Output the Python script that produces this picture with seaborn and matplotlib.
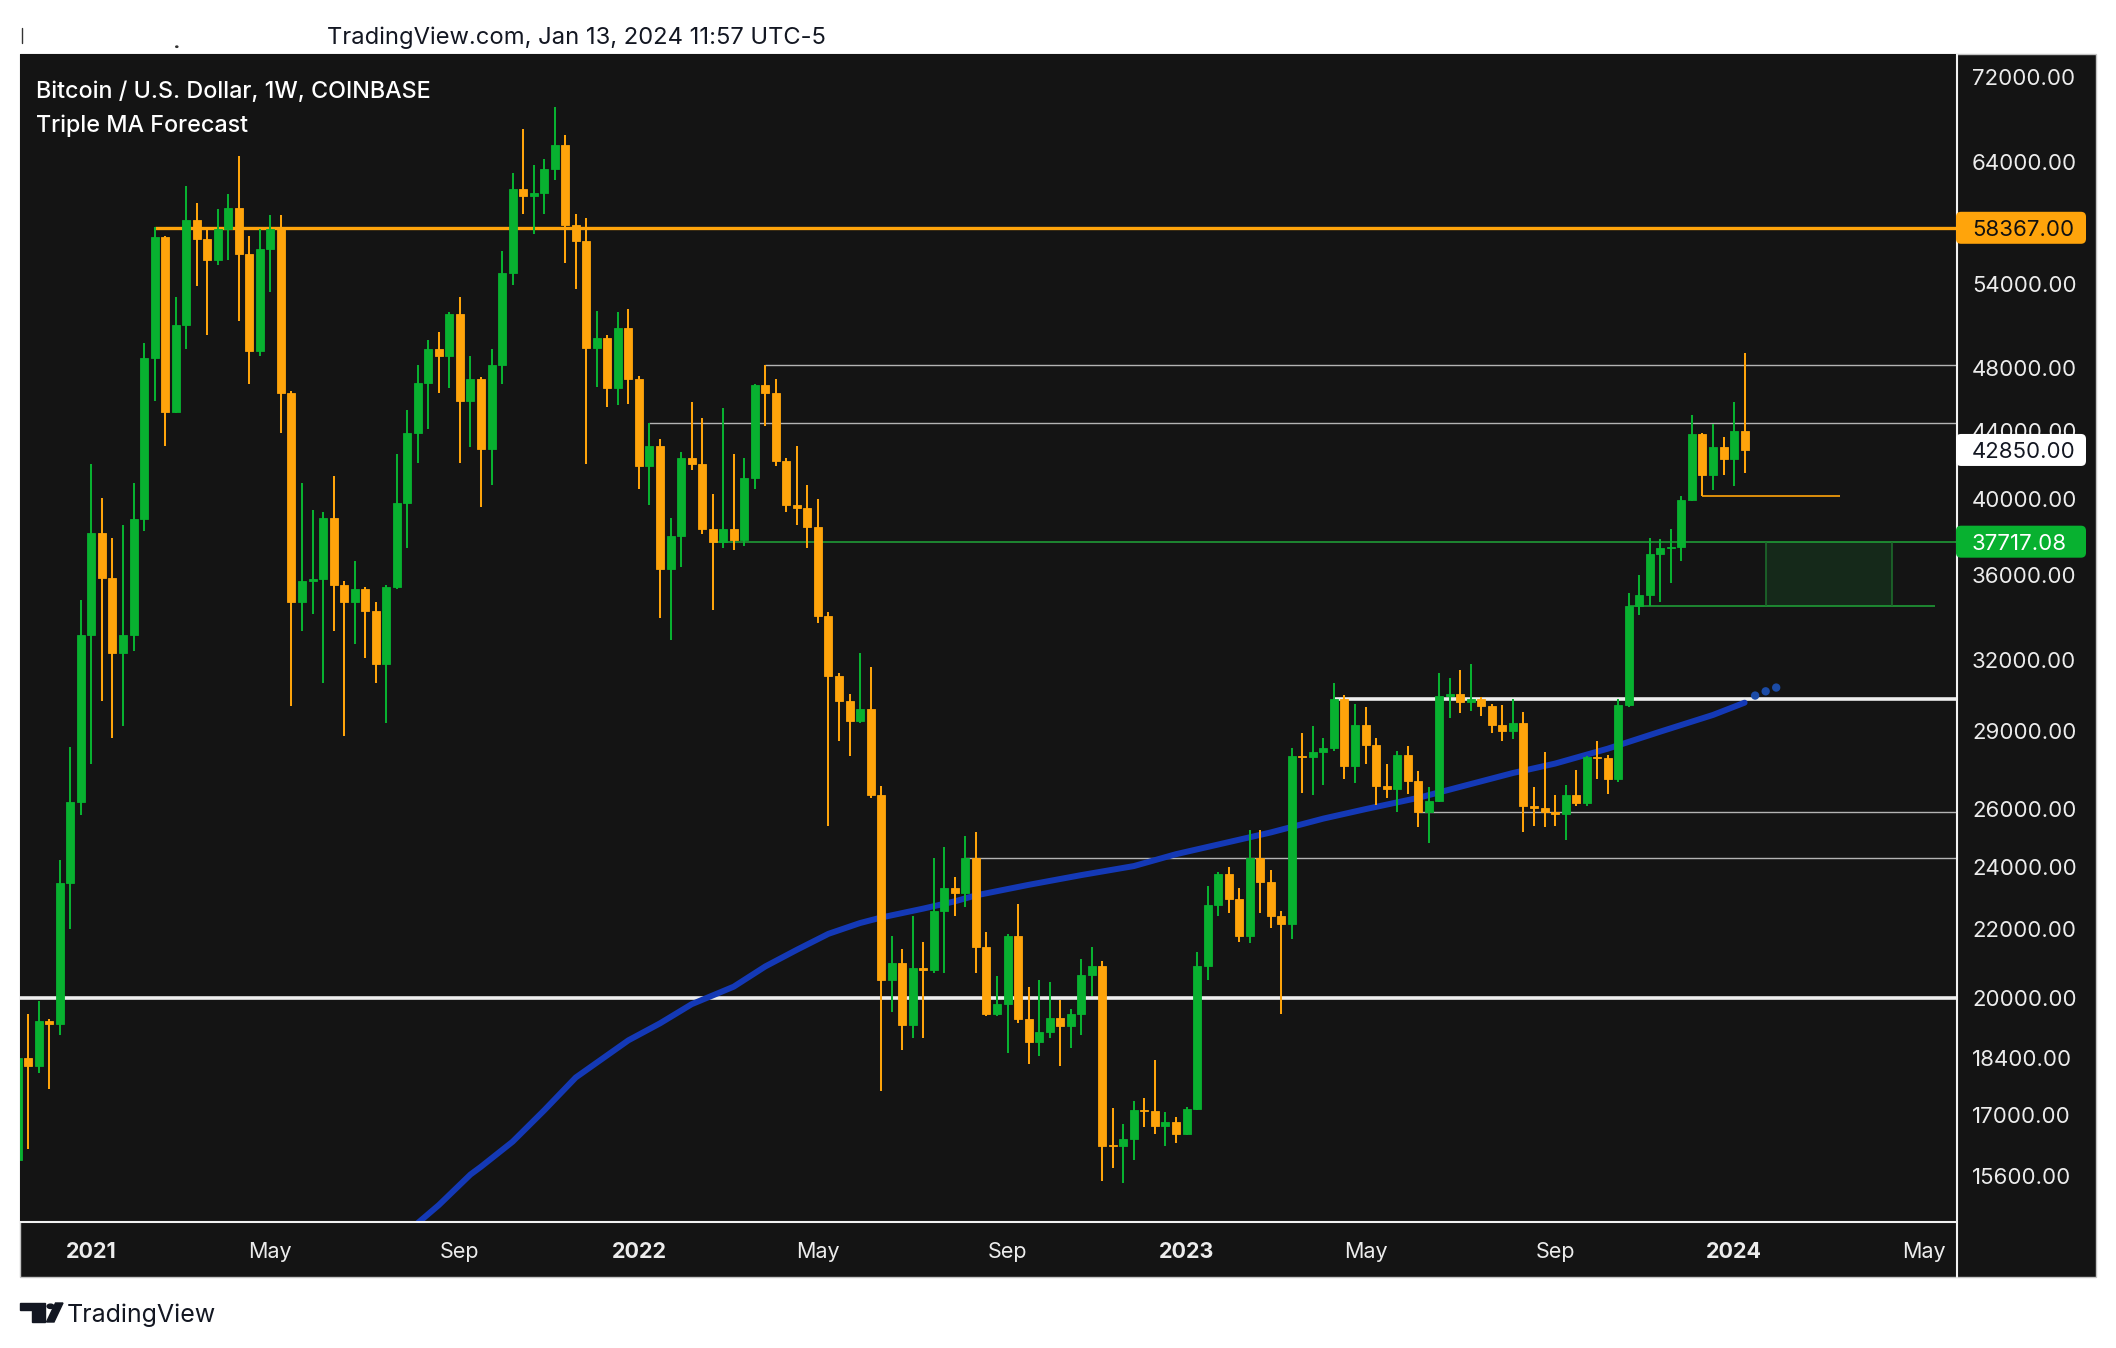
import numpy as np
import pandas as pd
import matplotlib
matplotlib.use("Agg")
import matplotlib.pyplot as plt
import seaborn as sns
from matplotlib.patches import Rectangle, FancyBboxPatch, Polygon, Circle
from matplotlib.lines import Line2D
from matplotlib.ticker import NullLocator, NullFormatter
from matplotlib.transforms import IdentityTransform

# --- weekly BTC/USD candles (Coinbase) ---
first_week = "2020-11-16"
opens = [15960, 18400, 18180, 19370, 19270, 23470, 26250, 33140, 38200, 35850,
         32300, 33140, 38900, 48700, 57600, 45200, 51000, 59000, 57500, 55800,
         58300, 60000, 56300, 49200, 56700, 58300, 46400, 34700, 35700, 35800,
         39000, 35500, 34700, 35300, 34250, 31800, 35400, 39800, 43900, 47050,
         49300, 48800, 51800, 45900, 47300, 42900, 48200, 54800, 61600, 61000,
         61300, 63300, 65500, 58600, 57300, 49400, 50100, 46700, 50800, 47300,
         41900, 43100, 36300, 38000, 42400, 42000, 38400, 37700, 38400, 37800,
         41200, 46900, 46400, 42200, 39700, 39500, 38500, 34000, 31300, 30200,
         29400, 29900, 26500, 20500, 21000, 19250, 20850, 20800, 22580, 23300,
         23150, 24300, 21450, 19550, 19830, 21780, 19410, 18800, 19060, 19450,
         19220, 19550, 20630, 20910, 16300, 16270, 16430, 17110, 17090, 16740,
         16830, 16550, 17130, 20900, 22740, 23750, 22930, 21800, 24280, 23500,
         22400, 22160, 28000, 27950, 28150, 28300, 30300, 27600, 29230, 28430,
         26850, 26750, 28050, 27050, 25880, 26310, 30450, 30520, 30170, 30300,
         30020, 29240, 29000, 29300, 26130, 26050, 25880, 25840, 26530, 26230,
         27970, 27930, 27120, 30050, 34500, 35000, 37090, 37380, 37450, 39950,
         43800, 41360, 43000, 42300, 44000]
highs = [18800, 19550, 19920, 19420, 24240, 28330, 34800, 42000, 40100, 37900,
         38600, 40900, 49700, 58400, 57700, 53000, 61900, 60400, 58300, 59900,
         61200, 64500, 57700, 58300, 59400, 59400, 46500, 40900, 39400, 39300,
         41300, 35700, 36700, 35400, 34700, 35500, 42600, 45300, 48200, 49900,
         50500, 51900, 53000, 48800, 47400, 49300, 56500, 63000, 67000, 63700,
         64200, 69000, 66400, 59500, 59200, 52000, 50300, 51900, 52100, 47500,
         44500, 43500, 39000, 42700, 45800, 44800, 40300, 45400, 42600, 42400,
         47000, 48200, 47300, 42400, 43100, 40800, 40000, 34200, 31400, 30500,
         32300, 31700, 26850, 21800, 21400, 22400, 21600, 24280, 24670, 23650,
         25050, 25200, 21900, 20600, 21850, 22790, 20300, 20500, 20450, 19950,
         19700, 21100, 21470, 21050, 17150, 16780, 17320, 17400, 18350, 17050,
         16950, 17180, 21300, 23350, 23830, 24000, 23300, 25250, 25270, 23900,
         22580, 28300, 28900, 29200, 28700, 30980, 30470, 30100, 29950, 28720,
         27700, 28200, 28400, 27400, 26800, 31400, 31200, 31550, 31820, 30400,
         30100, 30050, 30300, 29750, 26800, 28140, 26500, 26870, 27460, 28000,
         28600, 28050, 30300, 35100, 35990, 37900, 37850, 38400, 40200, 45000,
         43900, 44400, 43600, 45800, 49050]
lows = [15800, 16200, 18000, 17620, 19000, 22000, 25800, 27700, 30200, 28700,
        29200, 32400, 38300, 45900, 43100, 45100, 49300, 53800, 50300, 55400,
        55800, 51300, 47000, 48800, 53400, 43900, 30000, 33300, 34100, 31000,
        33300, 28800, 32700, 32100, 31000, 29300, 35300, 37400, 42100, 44100,
        46400, 46700, 42100, 43000, 39600, 40800, 47000, 53900, 59500, 57900,
        59500, 62400, 55600, 53600, 42000, 46800, 45500, 45600, 45700, 40600,
        39700, 33900, 32900, 36400, 41700, 38100, 34300, 37400, 37300, 37500,
        40600, 44300, 41900, 39300, 38600, 37400, 33700, 25400, 28600, 28000,
        29300, 26400, 17560, 19600, 18600, 18900, 18900, 20700, 20700, 22400,
        22700, 20700, 19500, 19500, 18520, 19300, 18230, 18450, 18920, 18200,
        18640, 19000, 20050, 15500, 15780, 15460, 15960, 16700, 16550, 16270,
        16330, 16520, 17100, 20500, 22400, 22500, 21600, 21570, 22500, 22050,
        19550, 21700, 26600, 26500, 26900, 28200, 27100, 26950, 27700, 26160,
        26400, 25900, 26550, 25350, 24800, 26250, 29500, 29700, 29800, 29600,
        28900, 28600, 28650, 25200, 25400, 25350, 25400, 24900, 26100, 26100,
        27100, 26550, 27000, 29950, 34050, 34500, 34700, 35600, 36700, 39900,
        40170, 40550, 41400, 40750, 41500]
closes = [18400, 18180, 19370, 19270, 23470, 26250, 33140, 38200, 35850, 32300,
          33140, 38900, 48700, 57600, 45200, 51000, 59000, 57500, 55800, 58300,
          60000, 56300, 49200, 56700, 58300, 46400, 34700, 35700, 35800, 39000,
          35500, 34700, 35300, 34250, 31800, 35400, 39800, 43900, 47050, 49300,
          48800, 51800, 45900, 47300, 42900, 48200, 54800, 61600, 61000, 61300,
          63300, 65500, 58600, 57300, 49400, 50100, 46700, 50800, 47300, 41900,
          43100, 36300, 38000, 42400, 42000, 38400, 37700, 38400, 37800, 41200,
          46900, 46400, 42200, 39700, 39500, 38500, 34000, 31300, 30200, 29400,
          29900, 26500, 20500, 21000, 19250, 20850, 20800, 22580, 23300, 23150,
          24300, 21450, 19550, 19830, 21780, 19410, 18800, 19060, 19450, 19220,
          19550, 20630, 20910, 16270, 16270, 16430, 17110, 17090, 16740, 16830,
          16550, 17130, 20900, 22740, 23750, 22930, 21800, 24280, 23500, 22400,
          22160, 28000, 27950, 28150, 28300, 30300, 27600, 29230, 28430, 26850,
          26750, 28050, 27050, 25880, 26310, 30450, 30520, 30170, 30300, 30020,
          29240, 29000, 29300, 26130, 26050, 25880, 25840, 26530, 26230, 27970,
          27930, 27120, 30050, 34500, 35000, 37090, 37380, 37450, 39950, 43800,
          41360, 43000, 42300, 44000, 42850]

# moving average line (week index, value) and the forecast dots
ma_week = [38, 40, 43, 44, 47, 50, 53, 58, 61, 64, 68, 71, 74, 77, 80, 82,
           86, 89, 91, 96, 101, 106, 110, 114, 119, 124, 128, 133, 137, 142,
           146, 151, 156, 161, 164]
ma_value = [14620, 14990, 15640, 15810, 16370, 17100, 17900, 18850, 19300,
            19820, 20310, 20890, 21380, 21860, 22190, 22360, 22640, 22870,
            23060, 23400, 23720, 24020, 24420, 24750, 25170, 25660, 26000,
            26410, 26820, 27340, 27700, 28280, 28960, 29640, 30150]
fc_week = [165, 166, 167]
fc_value = [30450, 30630, 30790]

# axes text
price_ticks = [72000, 64000, 54000, 48000, 44000, 40000, 36000, 32000, 29000,
               26000, 24000, 22000, 20000, 18400, 17000, 15600]
tick_dates = ["2021-01-04", "2021-05-03", "2021-09-06", "2022-01-03",
              "2022-05-02", "2022-09-05", "2023-01-02", "2023-05-01",
              "2023-09-04", "2024-01-01", "2024-05-06"]
tick_labels = ["2021", "May", "Sep", "2022", "May", "Sep", "2023", "May",
               "Sep", "2024", "May"]

# drawn levels
grey_levels = [48240, 44480, 25900, 24300]
grey_from = [71, 60, 133, 90]
white_levels = [30300, 20000]
white_from = [125, 0]
res_level, res_from = 58367.00, 13
sup_level, sup_from = 37717.08, 66
low_level, low_from, low_to = 34480, 153, 182.1
box_from, box_to = 166, 178
ol_level, ol_from, ol_to = 40170, 160, 173.1
last_price = 42850.00

# ---------------------------------------------------------------
W, H = 2116, 1348
sns.set_theme(style="dark")
plt.rcParams["font.family"] = ["Inter", "DejaVu Sans"]

BG = "#141414"
GREEN = "#08b130"
ORANGE = "#ffa40b"
MA_BLUE = "#1439b6"
TXT = "#ececec"
DARK = "#131722"


def fx(px):
    return px / W


def fy(py):
    return 1 - py / H


fig = plt.figure(figsize=(W / 100, H / 100), dpi=100, facecolor="white")

# dark panel holding chart + price scale + time scale
fig.add_artist(Rectangle((fx(20), fy(1277)), fx(2096) - fx(20), fy(54) - fy(1277),
                         transform=fig.transFigure, facecolor=BG,
                         edgecolor="#c4c4c4", lw=1, zorder=-5))

ax = fig.add_axes([fx(20), fy(1222), fx(1957) - fx(20), fy(54) - fy(1222)])
ax.set_facecolor(BG)
for s in ax.spines.values():
    s.set_visible(False)
ax.set_yscale("log")
x_lo, x_hi = 0.22, 184.17
ax.set_xlim(x_lo, x_hi)
ax.set_ylim(14640, 74330)

df = pd.DataFrame({"open": opens, "high": highs, "low": lows, "close": closes})
df["week"] = np.arange(len(df))
colors = np.where(df["close"] >= df["open"], GREEN, ORANGE)

# MA under the candles
sns.lineplot(x=ma_week, y=ma_value, ax=ax, color=MA_BLUE, lw=4.3, zorder=2)
sns.scatterplot(x=fc_week, y=fc_value, ax=ax, color="#1b4ba6", s=36,
                edgecolor="none", zorder=2)

# levels
ax.hlines(grey_levels, grey_from, x_hi, colors="#b4b4b4", lw=1.0, zorder=1)
ax.hlines(white_levels, [max(v, x_lo) for v in white_from], x_hi,
          colors="#eeeeee", lw=2.6, zorder=1)
ax.hlines(res_level, res_from, x_hi, colors=ORANGE, lw=2.4, zorder=1)
ax.hlines(sup_level, sup_from, x_hi, colors="#1f9a36", lw=1.2, zorder=1)
ax.hlines(low_level, low_from, low_to, colors="#1f9a36", lw=1.2, zorder=1)
ax.add_patch(Rectangle((box_from, low_level), box_to - box_from,
                       sup_level - low_level, facecolor="#15291a",
                       edgecolor="none", zorder=0.5))
ax.vlines([box_from, box_to], low_level, sup_level, colors="#1d6a2c", lw=1.2,
          zorder=1)
ax.hlines(ol_level, ol_from, ol_to, colors=ORANGE, lw=1.2, zorder=1)

# candles
ax.vlines(df["week"], df["low"], df["high"], colors=colors, lw=1.45, zorder=3)
ax.bar(df["week"], (df["close"] - df["open"]).abs(),
       bottom=df[["open", "close"]].min(axis=1), width=0.76, color=colors,
       edgecolor=colors, lw=0.6, zorder=4)

# price scale
ax.yaxis.tick_right()
ax.set_yticks(price_ticks, labels=[f"{v:.2f}" for v in price_ticks])
ax.yaxis.set_minor_locator(NullLocator())
ax.yaxis.set_minor_formatter(NullFormatter())
ax.tick_params(axis="y", length=0, pad=10.8, labelsize=16, labelcolor=TXT)

# time scale
start = pd.Timestamp(first_week)
tick_pos = [(pd.Timestamp(d) - start).days / 7 for d in tick_dates]
ax.set_xticks(tick_pos, labels=tick_labels)
ax.tick_params(axis="x", length=0, pad=14.5, labelsize=15.5, labelcolor=TXT)
for lab in ax.get_xticklabels():
    if lab.get_text().isdigit():
        lab.set_fontweight("bold")
ax.grid(False)

# separators
fig.add_artist(Line2D([fx(1957), fx(1957)], [fy(54), fy(1277)],
                      transform=fig.transFigure, color="#f2f2f2", lw=1.5))
fig.add_artist(Line2D([fx(20), fx(1957)], [fy(1222), fy(1222)],
                      transform=fig.transFigure, color="#f2f2f2", lw=1.5))

# price tags on the scale
tags = [(res_level, ORANGE, "#111111", f"{res_level:.2f}"),
        (last_price, "#ffffff", DARK, f"{last_price:.2f}"),
        (sup_level, GREEN, "#ffffff", f"{sup_level:.2f}")]
for val, fc, tc, txt in tags:
    yd = ax.transData.transform((1, val))[1]
    fig.add_artist(FancyBboxPatch((1956, yd - 16), 130, 32,
                                  boxstyle="round,pad=0,rounding_size=5",
                                  transform=IdentityTransform(), facecolor=fc,
                                  edgecolor="none", zorder=5))
    fig.text(fx(1972), yd / H, txt, color=tc, fontsize=16, ha="left",
             va="center_baseline", zorder=6)

# header / legend texts
fig.text(fx(327), fy(44.3), "TradingView.com, Jan 13, 2024 11:57 UTC-5",
         fontsize=17.1, color=DARK, va="baseline")
fig.text(fx(35.6), fy(98.3), "Bitcoin / U.S. Dollar, 1W, COINBASE",
         fontsize=16.8, color="#ffffff", va="baseline", fontweight="medium")
fig.text(fx(35.6), fy(131.7), "Triple MA Forecast", fontsize=16.8,
         color="#ffffff", va="baseline", fontweight="medium")
fig.add_artist(Line2D([fx(21.8), fx(21.8)], [fy(28), fy(43)],
                      transform=fig.transFigure, color="#333333", lw=1))
fig.add_artist(Circle((fx(176.8), fy(46.7)), 0.0005, transform=fig.transFigure,
                      color="#333333"))

# TradingView logo
fig.add_artist(Polygon([(fx(20), fy(1303)), (fx(44.5), fy(1303)),
                        (fx(44.5), fy(1322)), (fx(32), fy(1322)),
                        (fx(32), fy(1309.5)), (fx(20), fy(1309.5))],
                       closed=True, transform=fig.transFigure, color=DARK))
fig.add_artist(Circle((fx(50.5), fy(1306.3)), 3.4 / W,
                      transform=fig.transFigure, color=DARK))
fig.add_artist(Polygon([(fx(55.5), fy(1303)), (fx(63), fy(1303)),
                        (fx(54), fy(1322)), (fx(46.5), fy(1322))],
                       closed=True, transform=fig.transFigure, color=DARK))
fig.text(fx(67), fy(1321.7), "TradingView", fontsize=18, color=DARK,
         va="baseline")

fig.savefig("out.png", dpi=100, facecolor="white")
